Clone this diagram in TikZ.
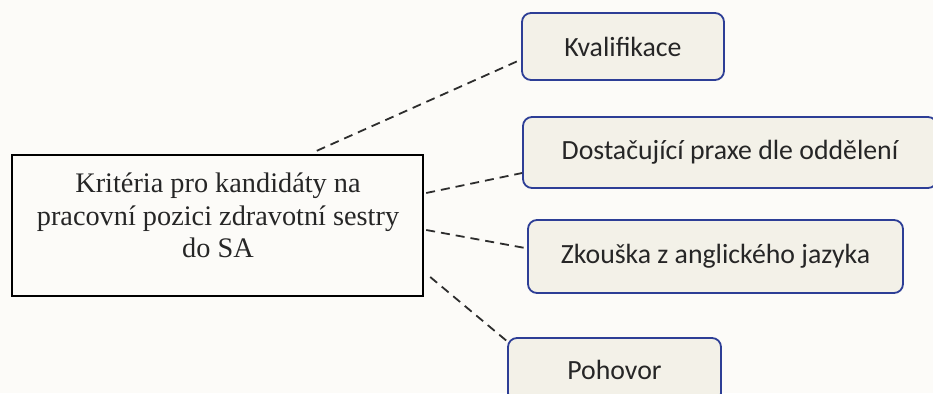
\documentclass[tikz,border=0pt]{standalone}
\usepackage{fontspec}
\setmainfont{Liberation Serif}
\newfontfamily\boxfont{Carlito}
\definecolor{boxblue}{RGB}{45,62,150}
\definecolor{boxfill}{RGB}{243,241,232}
\definecolor{inkgray}{RGB}{38,38,38}
\definecolor{linegray}{RGB}{45,45,45}
\definecolor{paper}{RGB}{252,251,248}
\begin{document}
\begin{tikzpicture}[x=1pt,y=-1pt,
  item/.style={draw=boxblue, fill=boxfill, line width=1.8pt, rounded corners=9pt,
    font=\boxfont\fontsize{27.8}{33}\selectfont, text=inkgray, inner sep=0pt},
  mainbox/.style={draw=black, line width=2.4pt, inner sep=0pt},
  maintext/.style={align=center, text=inkgray, inner sep=0pt,
    font=\fontsize{28.3}{32.5}\selectfont},
  link/.style={draw=linegray, line width=1.8pt, dash pattern=on 9pt off 6pt}]
  \useasboundingbox (0,0) rectangle (933,393);
  \clip (0,0) rectangle (933,393);
  \fill[paper] (0,0) rectangle (933,393);

  % central box and its caption
  \node[mainbox, minimum width=411pt, minimum height=141pt] (main) at (217.5,225.5) {};
  \node[maintext] (caption) at (218,215.5)
    {Kritéria pro kandidáty na\\pracovní pozici zdravotní sestry\\do SA};

  % criteria boxes
  \node[item, minimum width=202pt, minimum height=67pt] (kval) at (623,46.5) {Kvalifikace};
  \node[item, minimum width=414pt, minimum height=71pt] (dost) at (730,152.5) {Dostačující praxe dle oddělení};
  \node[item, minimum width=375pt, minimum height=73pt] (zk) at (715.5,256.5) {Zkouška z anglického jazyka};
  \node[item, minimum width=213pt, minimum height=64pt] (poh) at (614.5,370) {Pohovor};

  % dashed connectors
  \draw[link] ([xshift=306pt,yshift=3pt]main.north west) -- ([xshift=-1pt,yshift=-13.5pt]kval.west);
  \draw[link] ([xshift=2pt,yshift=32.5pt]main.east) -- ([yshift=-20.5pt]dost.west);
  \draw[link] ([xshift=2pt,yshift=-4.5pt]main.east) -- ([xshift=-2pt,yshift=8.5pt]zk.west);
  \draw[link] ([xshift=6pt,yshift=-51.5pt]main.east) -- ([xshift=1pt,yshift=-5pt]poh.north west);
\end{tikzpicture}
\end{document}
